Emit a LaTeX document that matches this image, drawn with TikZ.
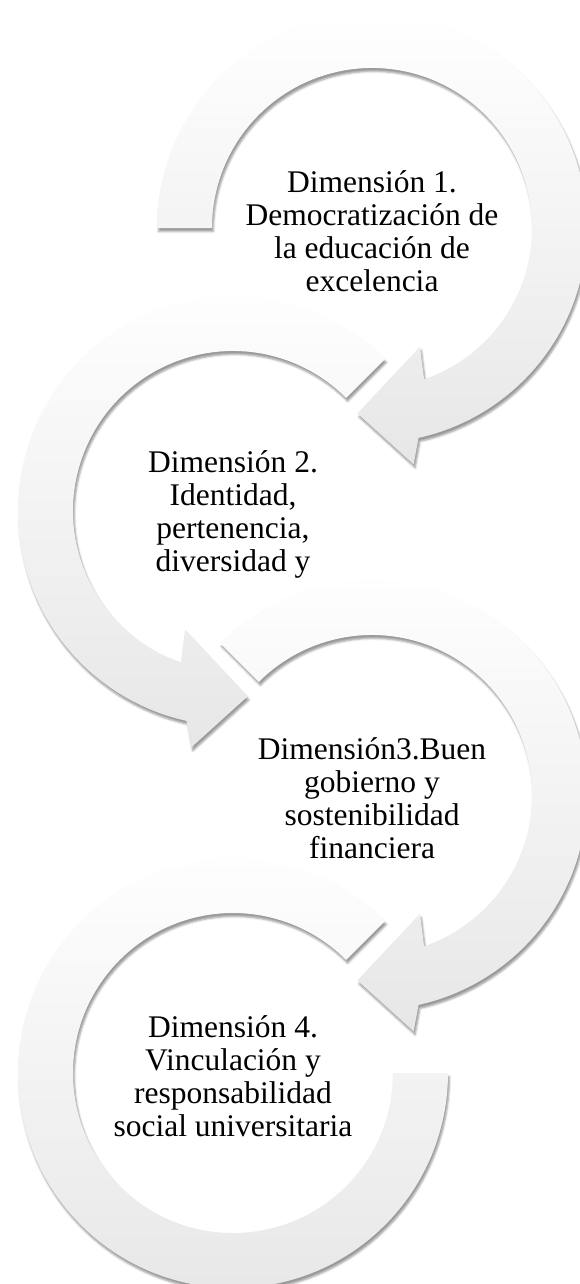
\documentclass[tikz,border=0pt]{standalone}
\usepackage{fontspec}
\setmainfont{Liberation Serif}
\usetikzlibrary{shadows.blur}

\begin{document}
\begin{tikzpicture}[x=1pt, y=1pt,
        arrowband/.style={top color=white, middle color=white, bottom color=gray!19,
            blur shadow={shadow xshift=1.5pt, shadow yshift=-3.5pt, shadow blur radius=2pt, shadow opacity=40}},
        dimtext/.style={align=center, inner sep=0pt, font=\fontsize{31.5}{33}\selectfont}]
    \useasboundingbox (0,0) rectangle (580,-1284);
    \coordinate (c1) at (372,-228);
    \coordinate (c2) at (233,-511);
    \coordinate (c3) at (372,-795);
    \coordinate (c4) at (233,-1073);
    \path [arrowband, shift={(c4)}] (45:215) arc [start angle=45, end angle=360, radius=215] -- (0:160) arc [start angle=360, end angle=45, radius=160] -- cycle;
    \path [arrowband, shift={(c3)}] (135:215) arc [start angle=135, end angle=-77.5, radius=215] -- (-80:240) -- (-94.5:186) -- (-68:128) -- (-71:160) arc [start angle=-71, end angle=135, radius=160] -- cycle;
    \path [arrowband, shift={(c2)}] (45:215) arc [start angle=45, end angle=257.5, radius=215] -- (260:240) -- (274.5:186) -- (248:128) -- (251:160) arc [start angle=251, end angle=45, radius=160] -- cycle;
    \path [arrowband, shift={(c1)}] (180:215) arc [start angle=180, end angle=-77.5, radius=215] -- (-80:240) -- (-94.5:186) -- (-68:128) -- (-71:160) arc [start angle=-71, end angle=180, radius=160] -- cycle;
    \node [dimtext] (t1) at ([yshift=-3pt]c1) {Dimensión 1.\\Democratización de\\la educación de\\excelencia};
    \node [dimtext] (t2) at ([yshift=-3pt]c2) {Dimensión 2.\\Identidad,\\pertenencia,\\diversidad y};
    \node [dimtext] (t3) at ([yshift=-3pt]c3) {Dimensión3.Buen\\gobierno y\\sostenibilidad\\financiera};
    \node [dimtext] (t4) at ([yshift=-3pt]c4) {Dimensión 4.\\Vinculación y\\responsabilidad\\social universitaria};
\end{tikzpicture}
\end{document}
